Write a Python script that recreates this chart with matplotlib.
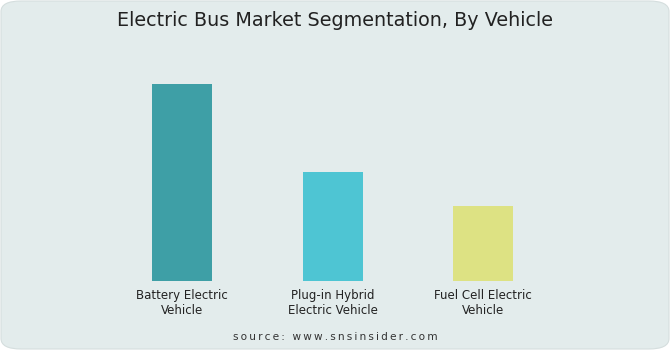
import matplotlib
matplotlib.use("Agg")
import matplotlib.pyplot as plt
from matplotlib.patches import FancyBboxPatch

categories = ["Battery Electric\nVehicle", "Plug-in Hybrid\nElectric Vehicle", "Fuel Cell Electric\nVehicle"]
values = [197, 109, 75]
colors = ["#3e9fa6", "#4ec5d3", "#dde283"]
source = "source: www.snsinsider.com"

W, H = 670, 350
fig = plt.figure(figsize=(6.7, 3.5), dpi=100)
fig.patch.set_facecolor("white")
bg = FancyBboxPatch((1 / W, 1 / H), 1 - 2 / W, 1 - 2 / H,
                    boxstyle="round,pad=0,rounding_size=0.03",
                    transform=fig.transFigure, facecolor="#e3ecec",
                    edgecolor="#d5dede", linewidth=0.8, zorder=-10)
fig.patches.append(bg)

ax = fig.add_axes([107 / W, (H - 281) / H, 451.5 / W, 210 / H])
ax.set_zorder(5)
ax.set_facecolor("none")
x = list(range(len(categories)))
ax.bar(x, values, width=0.4, color=colors)
ax.set_xlim(-0.5, 2.5)
ax.set_ylim(0, 210)
ax.axis("off")

for xi, lab in zip(x, categories):
    ax.text(xi, -8, lab, ha="center", va="top", fontsize=8.5,
            color="#222222", linespacing=1.25, transform=ax.transData)

fig.text(0.5, 1 - 21 / H, "Electric Bus Market Segmentation, By Vehicle",
         ha="center", va="center", fontsize=13.8, color="#222222")
fig.text(0.5, 1 - 337 / H, "\u2009".join(source),
         ha="center", va="center", fontsize=7.6, color="#333333")

fig.savefig("out.png", dpi=100)
